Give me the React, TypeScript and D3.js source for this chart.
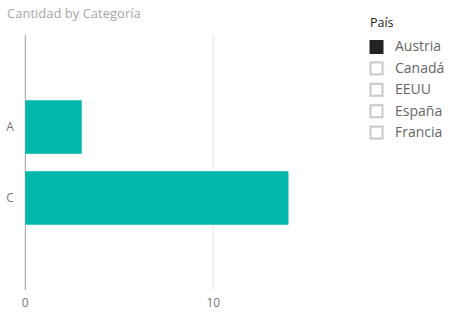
import React from "react";
import * as d3 from "d3";

const categories = ["A", "C"];
const values = [3, 14];
const xTicks = [0, 10];
const legendTitle = "País";
const legendItems = ["Austria", "Canadá", "EEUU", "España", "Francia"];
const selectedItem = "Austria";
const title = "Cantidad by Categoría";

const W = 453;
const H = 317;
const font = "'Open Sans', 'Noto Sans', sans-serif";

export default function App() {
  const x = d3.scaleLinear().domain([0, 10]).range([25.3, 213.3]);
  const y = d3
    .scaleBand<string>()
    .domain(categories)
    .range([35, 290])
    .paddingInner(0.245)
    .paddingOuter(0.92);

  return (
    <svg
      width={W}
      height={H}
      style={{ position: "absolute", left: 0, top: 0, background: "#fff" }}
      fontFamily={font}
    >
      <text x={7} y={18} fontSize={13} fill="#a6a6a6">
        {title}
      </text>
      {xTicks.map((t) => (
        <g key={t}>
          <line
            x1={x(t)}
            x2={x(t)}
            y1={35}
            y2={290}
            stroke={t === 0 ? "#a0a0a0" : "#e6e6e6"}
            strokeWidth={1}
          />
          <text
            x={x(t)}
            y={307}
            fontSize={12}
            fill="#777"
            textAnchor="middle"
          >
            {t}
          </text>
        </g>
      ))}
      {categories.map((c, i) => (
        <g key={c}>
          <rect
            x={x(0)}
            y={y(c)}
            width={x(values[i]) - x(0)}
            height={y.bandwidth()}
            fill="#01B8AA"
          />
          <text
            x={10}
            y={(y(c) as number) + y.bandwidth() / 2}
            dy="0.35em"
            fontSize={12}
            fill="#777"
            textAnchor="middle"
          >
            {c}
          </text>
        </g>
      ))}
      <text x={370} y={27} fontSize={12.5} fill="#222">
        {legendTitle}
      </text>
      {legendItems.map((it, i) => {
        const cy = 46.5 + i * 21.4;
        const sel = it === selectedItem;
        return (
          <g key={it}>
            <rect
              x={sel ? 369.5 : 370.5}
              y={sel ? cy - 6.5 : cy - 5.5}
              width={sel ? 14 : 12}
              height={sel ? 14 : 12}
              fill={sel ? "#222" : "#fff"}
              stroke={sel ? "none" : "#c8c8c8"}
              strokeWidth={2}
            />
            <text x={395} y={cy} dy="0.35em" fontSize={14} fill="#666">
              {it}
            </text>
          </g>
        );
      })}
    </svg>
  );
}
